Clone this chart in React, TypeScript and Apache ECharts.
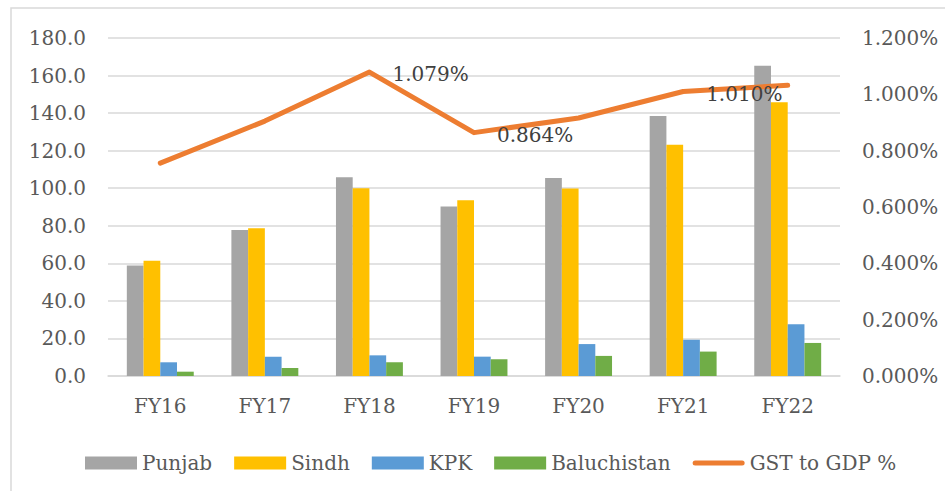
import React, { useEffect, useRef } from "react";
import * as echarts from "echarts";

const categories = ["FY16", "FY17", "FY18", "FY19", "FY20", "FY21", "FY22"];
const punjab = [58.8, 77.8, 105.9, 90.2, 105.5, 138.5, 165.2];
const sindh = [61.4, 78.7, 100.0, 93.6, 99.8, 123.2, 145.8];
const kpk = [7.3, 10.3, 11.0, 10.3, 17.0, 19.3, 27.5];
const baluchistan = [2.3, 4.3, 7.3, 8.9, 10.7, 13.0, 17.6];
const gstToGdp = [0.756, 0.905, 1.079, 0.864, 0.916, 1.01, 1.032];
const labelledPoints = [2, 3, 5];

const FONT = "DejaVu Serif";
const TEXT = "#595959";

export default function App() {
  const ref = useRef<HTMLDivElement>(null);
  useEffect(() => {
    document.body.style.margin = "0";
    const chart = echarts.init(ref.current!, null, { renderer: "svg" });
    const barSeries = (name: string, data: number[], color: string) => ({
      name,
      type: "bar",
      data,
      barGap: "0%",
      barCategoryGap: "36%",
      itemStyle: { color },
      yAxisIndex: 0,
    });
    chart.setOption({
      animation: false,
      textStyle: { fontFamily: FONT },
      graphic: [
        {
          type: "rect",
          shape: { x: 11, y: 8, width: 1000, height: 600 },
          style: { fill: "none", stroke: "#d9d9d9", lineWidth: 1.5 },
          silent: true,
        },
      ],
      grid: { left: 108, right: 105, top: 38, bottom: 115 },
      legend: {
        left: 80,
        top: 448,
        itemWidth: 52,
        itemHeight: 13,
        itemGap: 22,
        symbolKeepAspect: true,
        textStyle: { fontFamily: FONT, fontSize: 20, color: TEXT },
        data: [
          { name: "Punjab", icon: "rect" },
          { name: "Sindh", icon: "rect" },
          { name: "KPK", icon: "rect" },
          { name: "Baluchistan", icon: "rect" },
          {
            name: "GST to GDP %",
            icon: "path://M2.5,0 L49.5,0 A2.5,2.5 0 0 1 49.5,5 L2.5,5 A2.5,2.5 0 0 1 2.5,0 Z",
            itemStyle: { color: "#ED7D31" },
          },
        ],
      },
      xAxis: {
        type: "category",
        data: categories,
        axisTick: { show: false },
        axisLine: { lineStyle: { color: "#d9d9d9", width: 1.5 } },
        axisLabel: { fontFamily: FONT, fontSize: 20, color: TEXT, margin: 20 },
      },
      yAxis: [
        {
          type: "value",
          min: 0,
          max: 180,
          interval: 20,
          axisLabel: {
            fontFamily: FONT,
            fontSize: 20,
            color: TEXT,
            margin: 22,
            formatter: (v: number) => v.toFixed(1),
          },
          splitLine: { lineStyle: { color: "#d9d9d9", width: 1.5 } },
          axisLine: { show: false },
          axisTick: { show: false },
        },
        {
          type: "value",
          min: 0,
          max: 1.2,
          interval: 0.2,
          position: "right",
          axisLabel: {
            fontFamily: FONT,
            fontSize: 20,
            color: TEXT,
            margin: 22,
            formatter: (v: number) => v.toFixed(3) + "%",
          },
          splitLine: { show: false },
          axisLine: { show: false },
          axisTick: { show: false },
        },
      ],
      series: [
        barSeries("Punjab", punjab, "#A5A5A5"),
        barSeries("Sindh", sindh, "#FFC000"),
        barSeries("KPK", kpk, "#5B9BD5"),
        barSeries("Baluchistan", baluchistan, "#70AD47"),
        {
          name: "GST to GDP %",
          type: "line",
          yAxisIndex: 1,
          symbol: "circle",
          symbolSize: 2,
          showSymbol: true,
          z: 5,
          lineStyle: { color: "#ED7D31", width: 5, cap: "round", join: "round" },
          itemStyle: { color: "#ED7D31" },
          data: gstToGdp.map((v, i) => ({
            value: v,
            label: {
              show: labelledPoints.includes(i),
              position: "right",
              distance: 22,
              offset: [0, 2],
              fontFamily: FONT,
              fontSize: 20,
              color: "#404040",
              formatter: (p: any) => (p.value as number).toFixed(3) + "%",
            },
          })),
        },
      ],
    });
    return () => chart.dispose();
  }, []);
  return <div ref={ref} style={{ width: 945, height: 491 }} />;
}
